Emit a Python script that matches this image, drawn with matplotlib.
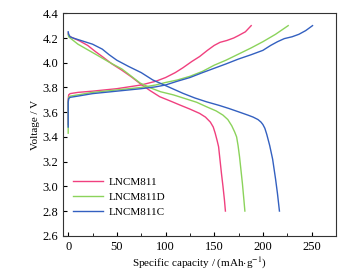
import matplotlib
matplotlib.use("Agg")
import matplotlib.pyplot as plt
from matplotlib.ticker import MultipleLocator

plt.rcParams['font.family'] = ['Liberation Serif', 'DejaVu Serif']
plt.rcParams['mathtext.fontset'] = 'stix'

# charge curves (capacity, voltage)
c811_cap = [0, 0, 0.5, 2, 10, 25, 50, 75, 90, 100, 110, 118, 127, 135, 143, 150, 156, 163, 170, 175, 182, 188]
c811_v = [3.50, 3.70, 3.74, 3.75, 3.76, 3.77, 3.79, 3.82, 3.85, 3.88, 3.92, 3.96, 4.01, 4.05, 4.10, 4.14, 4.165, 4.18, 4.20, 4.22, 4.25, 4.30]
c811d_cap = [0, 0, 0.5, 2, 10, 25, 50, 75, 90, 100, 112, 125, 138, 150, 162, 175, 188, 200, 213, 226]
c811d_v = [3.43, 3.68, 3.72, 3.73, 3.74, 3.76, 3.78, 3.80, 3.82, 3.84, 3.86, 3.89, 3.93, 3.98, 4.02, 4.07, 4.12, 4.17, 4.23, 4.30]
c811c_cap = [0, 0, 0.5, 2, 10, 25, 50, 75, 90, 100, 112, 125, 138, 150, 162, 175, 188, 200, 208, 215, 222, 230, 237, 244, 251]
c811c_v = [3.48, 3.68, 3.71, 3.72, 3.73, 3.75, 3.77, 3.79, 3.805, 3.82, 3.85, 3.88, 3.92, 3.955, 3.99, 4.03, 4.065, 4.10, 4.14, 4.17, 4.195, 4.21, 4.23, 4.26, 4.30]

# discharge curves
d811_cap = [0, 0.5, 2, 5, 12, 20, 28, 35, 45, 55, 65, 74, 84, 94, 105, 115, 125, 135, 141, 146, 149, 151, 153, 154.5, 156, 157.5, 159, 160.5, 161.5]
d811_v = [4.24, 4.22, 4.21, 4.20, 4.175, 4.14, 4.09, 4.05, 3.99, 3.94, 3.885, 3.83, 3.775, 3.725, 3.69, 3.657, 3.625, 3.59, 3.56, 3.52, 3.48, 3.43, 3.37, 3.32, 3.21, 3.10, 3.00, 2.89, 2.80]
d811d_cap = [0, 0.5, 2, 10, 20, 30, 42, 55, 65, 74, 85, 95, 108, 120, 132, 142, 152, 159, 164, 168, 171, 173, 174.5, 176, 177.5, 179, 180.5, 181.5]
d811d_v = [4.23, 4.21, 4.20, 4.15, 4.105, 4.06, 4.005, 3.95, 3.89, 3.835, 3.795, 3.765, 3.74, 3.71, 3.68, 3.644, 3.61, 3.576, 3.54, 3.49, 3.44, 3.40, 3.33, 3.24, 3.13, 3.02, 2.89, 2.80]
d811c_cap = [0, 0.5, 2, 5, 15, 25, 35, 42, 50, 62, 75, 87, 100, 110, 118, 130, 142, 155, 165, 176, 185, 190, 195, 198, 200, 202, 204, 207, 210, 213, 215, 217]
d811c_v = [4.25, 4.23, 4.21, 4.20, 4.175, 4.15, 4.11, 4.065, 4.02, 3.97, 3.92, 3.86, 3.815, 3.78, 3.752, 3.715, 3.684, 3.655, 3.63, 3.60, 3.575, 3.56, 3.54, 3.52, 3.50, 3.47, 3.42, 3.33, 3.22, 3.06, 2.94, 2.80]

labels = ['LNCM811', 'LNCM811D', 'LNCM811C']
colors = ['#f0407f', '#8bd35b', '#3360c0']

fig = plt.figure(figsize=(3.47, 2.71), dpi=100)
ax = fig.add_axes([0.1825, 0.130, 0.7855, 0.821])

charges = [(c811_cap, c811_v), (c811d_cap, c811d_v), (c811c_cap, c811c_v)]
discharges = [(d811_cap, d811_v), (d811d_cap, d811d_v), (d811c_cap, d811c_v)]
for (cx, cy), (dx, dy), lab, col in zip(charges, discharges, labels, colors):
    ax.plot(cx, cy, color=col, lw=1.0, label=lab)
    ax.plot(dx, dy, color=col, lw=1.0)

ax.set_xlim(-5, 275)
ax.set_ylim(2.6, 4.4)
ax.xaxis.set_major_locator(MultipleLocator(50))
ax.xaxis.set_minor_locator(MultipleLocator(25))
ax.yaxis.set_major_locator(MultipleLocator(0.2))
ax.tick_params(direction='in', labelsize=9, top=False, right=False, length=3)
ax.tick_params(which='minor', direction='in', length=2)
for s in ax.spines.values():
    s.set_linewidth(0.8)
    s.set_color('#333333')

ax.set_xlabel('Specific capacity / (mAh$\\cdot$g$^{-1}$)', fontsize=8, labelpad=2)
ax.set_ylabel('Voltage / V', fontsize=8, labelpad=2)

ax.legend(loc='lower left', bbox_to_anchor=(0.0, 0.04), frameon=False, fontsize=8,
          handlelength=2.7, labelspacing=0.45, handletextpad=0.45)

fig.savefig('out.png', dpi=100)
